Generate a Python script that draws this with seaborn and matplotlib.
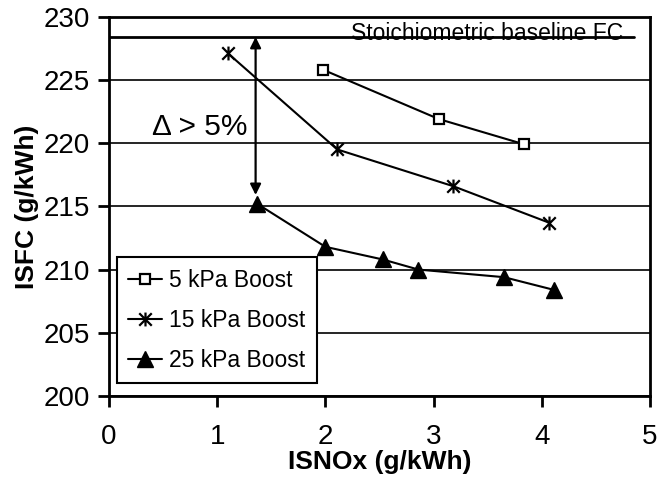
import matplotlib
matplotlib.use("Agg")
import matplotlib.pyplot as plt
from matplotlib.path import Path
import pandas as pd
import seaborn as sns

# Measured ISFC vs ISNOx for three boost levels
nox_5 = [1.98, 3.05, 3.84]
isfc_5 = [225.8, 221.9, 219.9]
nox_15 = [1.10, 2.11, 3.18, 4.07]
isfc_15 = [227.1, 219.5, 216.6, 213.7]
nox_25 = [1.37, 2.00, 2.53, 2.86, 3.65, 4.11]
isfc_25 = [215.2, 211.8, 210.8, 210.0, 209.4, 208.4]
labels = ["5 kPa Boost", "15 kPa Boost", "25 kPa Boost"]

baseline_fc = 228.4
baseline_end = 4.85
delta_x = 1.355
delta_low = 215.9
delta_text = "Δ > 5%"

x_ticks = [0, 1, 2, 3, 4, 5]
y_ticks = [200, 205, 210, 215, 220, 225, 230]

df = pd.concat([
    pd.DataFrame({"nox": nox_5, "isfc": isfc_5, "series": labels[0]}),
    pd.DataFrame({"nox": nox_15, "isfc": isfc_15, "series": labels[1]}),
    pd.DataFrame({"nox": nox_25, "isfc": isfc_25, "series": labels[2]}),
])

sns.set_theme(style="white")
plt.rcParams["font.family"] = ["Liberation Sans", "DejaVu Sans"]
plt.rcParams["text.color"] = "black"

# asterisk-style marker: X plus a vertical stroke
star = Path([(0, -1), (0, 1), (-0.9, -0.9), (0.9, 0.9), (-0.9, 0.9), (0.9, -0.9)],
            [Path.MOVETO, Path.LINETO, Path.MOVETO, Path.LINETO, Path.MOVETO, Path.LINETO])

fig = plt.figure(figsize=(6.59, 4.83), dpi=100)
ax = fig.add_axes([0.1654, 0.1801, 0.8209, 0.7853])

styles = {
    labels[0]: dict(marker="s", markersize=7, markerfacecolor="white", markeredgewidth=1.6),
    labels[1]: dict(marker=star, markersize=10, markeredgewidth=1.6),
    labels[2]: dict(marker="^", markersize=11, markerfacecolor="black", markeredgewidth=1),
}
for name in labels:
    sub = df[df["series"] == name]
    sns.lineplot(data=sub, x="nox", y="isfc", ax=ax, color="black", lw=1.5,
                 sort=False, label=name, markeredgecolor="black", zorder=3, **styles[name])

ax.set_xlim(0, 5)
ax.set_ylim(200, 230)
ax.set_xticks(x_ticks)
ax.set_yticks(y_ticks)
ax.grid(axis="y", color="black", lw=1.2)
ax.grid(axis="x", visible=False)
ax.set_axisbelow(True)
for s in ax.spines.values():
    s.set_color("black")
    s.set_linewidth(2)
ax.tick_params(axis="both", direction="out", length=8, width=2, color="black",
               labelsize=20, labelcolor="black", left=True, bottom=True)
ax.tick_params(axis="x", pad=12)
ax.tick_params(axis="y", pad=6)
ax.set_xlabel("ISNOx (g/kWh)", fontsize=19, fontweight="bold", color="black", labelpad=0)
ax.set_ylabel("ISFC (g/kWh)", fontsize=19, fontweight="bold", color="black", labelpad=3)

# stoichiometric baseline reference
ax.plot([0, baseline_end], [baseline_fc, baseline_fc], color="black", lw=2, zorder=2)
ax.text(3.49, baseline_fc + 0.3, "Stoichiometric baseline FC", fontsize=16.5,
        ha="center", va="center", color="black", zorder=4)

ax.annotate("", xy=(delta_x, delta_low), xytext=(delta_x, baseline_fc),
            arrowprops=dict(arrowstyle="<|-|>", color="black", lw=1.6,
                            mutation_scale=16, shrinkA=0, shrinkB=0), zorder=4)
ax.text(0.84, 221.3, delta_text, fontsize=21.5, ha="center", va="center", color="black")

leg = ax.legend(loc="lower left", bbox_to_anchor=(0.014, 0.033), fontsize=16.5,
                frameon=True, fancybox=False, edgecolor="black", framealpha=1,
                handlelength=1.5, handletextpad=0.3, labelspacing=0.75,
                borderpad=0.5, borderaxespad=0, labelcolor="black")
leg.get_frame().set_linewidth(1.5)
leg.set_zorder(5)

fig.savefig("out.png", dpi=100)
